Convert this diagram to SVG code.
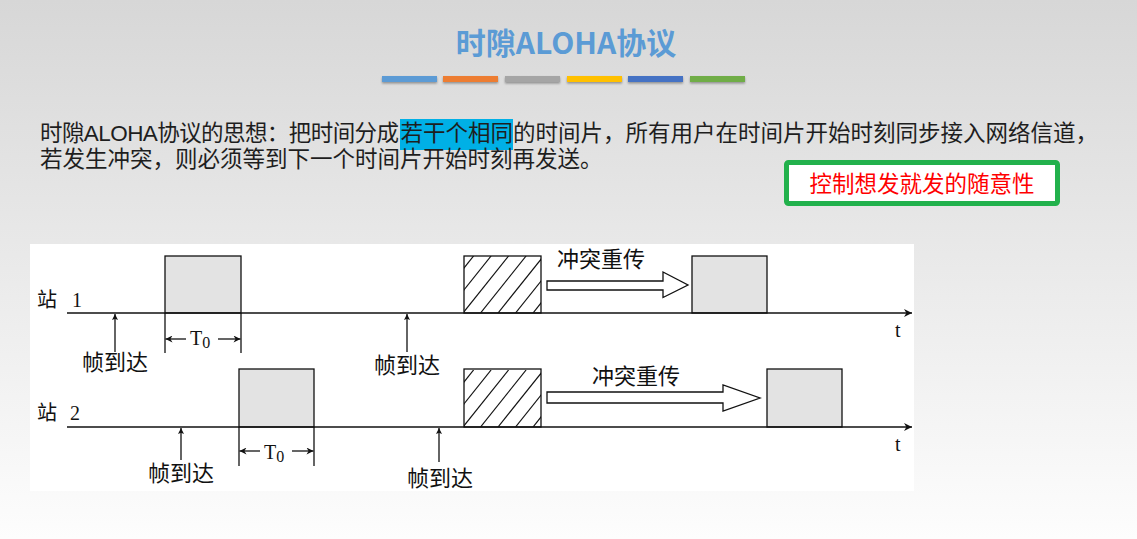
<svg xmlns="http://www.w3.org/2000/svg" width="1137" height="539" viewBox="0 0 1137 539">
<style>
.cjk{font-family:"Noto Sans CJK SC","Noto Sans",sans-serif}
.desc{font-family:"Liberation Sans","Noto Sans CJK SC",sans-serif;font-size:22.5px;fill:#1e1e1e}
.lbl{font-family:"Liberation Serif","Noto Sans CJK SC",serif;fill:#111}
.ln{stroke:#111;stroke-width:1.3;fill:none}
.axis{stroke:#111;stroke-width:1.6;fill:none}
.frame{fill:#e3e3e3;stroke:#111;stroke-width:1.3}
.hbox{fill:#fff;stroke:#111;stroke-width:1.3}
.hollow{fill:#fff;stroke:#111;stroke-width:1.3;stroke-linejoin:miter}
.bar{filter:url(#sh)}
</style>
<defs>
<linearGradient id="bg" x1="0" y1="0" x2="0" y2="1">
<stop offset="0" stop-color="#d7d7d7"/>
<stop offset="1" stop-color="#fdfdfd"/>
</linearGradient>
<filter id="sh" x="-10%" y="-50%" width="120%" height="250%">
<feDropShadow dx="0" dy="1.5" stdDeviation="1" flood-color="#000" flood-opacity="0.35"/>
</filter>
<marker id="up" viewBox="0 0 10 10" refX="10" refY="5" markerWidth="10" markerHeight="6" markerUnits="userSpaceOnUse" orient="auto">
<path d="M0,0 L10,5 L0,10 L2,5 Z" fill="#111"/>
</marker>
<marker id="dim" viewBox="0 0 10 10" refX="10" refY="5" markerWidth="17" markerHeight="7" markerUnits="userSpaceOnUse" orient="auto">
<path d="M0,0 L10,5 L0,10 L3,5 Z" fill="#111"/>
</marker>
<marker id="ax" viewBox="0 0 10 10" refX="10" refY="5" markerWidth="24" markerHeight="8" markerUnits="userSpaceOnUse" orient="auto">
<path d="M0,0 L10,5 L0,10 L3,5 Z" fill="#111"/>
</marker>
<clipPath id="hc"><rect x="464" y="256" width="77" height="57"/></clipPath>
<g id="hatch" clip-path="url(#hc)" stroke="#111" stroke-width="1.2">
<line x1="428" y1="313" x2="473.6" y2="256"/>
<line x1="445.5" y1="313" x2="491.1" y2="256"/>
<line x1="463" y1="313" x2="508.6" y2="256"/>
<line x1="480.5" y1="313" x2="526.1" y2="256"/>
<line x1="498" y1="313" x2="543.6" y2="256"/>
<line x1="515.5" y1="313" x2="561.1" y2="256"/>
<line x1="533" y1="313" x2="578.6" y2="256"/>
</g>
</defs>

<rect x="0" y="0" width="1137" height="539" fill="url(#bg)"/>

<g id="title">
<text x="566" y="54" text-anchor="middle" class="cjk" font-size="30" font-weight="bold" fill="#5b9bd5">时隙ALOHA协议</text>
</g>

<g id="color-bars">
<rect class="bar" x="382" y="76" width="55" height="6" fill="#5b9bd5"/>
<rect class="bar" x="443" y="76" width="55" height="6" fill="#ed7d31"/>
<rect class="bar" x="505" y="76" width="55" height="6" fill="#a5a5a5"/>
<rect class="bar" x="567" y="76" width="55" height="6" fill="#ffc000"/>
<rect class="bar" x="628" y="76" width="55" height="6" fill="#4472c4"/>
<rect class="bar" x="690" y="76" width="55" height="6" fill="#70ad47"/>
</g>

<g id="description">
<rect x="400" y="119" width="113" height="31" fill="#00b0e6"/>
<text class="desc" x="40" y="141" textLength="359" lengthAdjust="spacing">时隙ALOHA协议的思想：把时间分成</text>
<text class="desc" x="400.5" y="141">若干个相同</text>
<text class="desc" x="513" y="141">的时间片，所有用户在时间片开始时刻同步接入网络信道，</text>
<text class="desc" x="40" y="167">若发生冲突，则必须等到下一个时间片开始时刻再发送。</text>
</g>

<g id="note">
<rect x="786.5" y="162.5" width="271" height="41" rx="2" fill="#fff" stroke="#22b14c" stroke-width="5"/>
<text x="922" y="192" text-anchor="middle" class="cjk" font-size="22.5" fill="#ff0000">控制想发就发的随意性</text>
</g>

<rect id="panel" x="30" y="244" width="884" height="247" fill="#fff"/>

<g id="station1">
<text class="lbl" y="307" font-size="20"><tspan x="37">站</tspan><tspan x="72">1</tspan></text>
<rect class="frame" x="165" y="256" width="76" height="57"/>
<rect class="hbox" x="464" y="256" width="77" height="57"/>
<use href="#hatch"/>
<rect class="frame" x="692" y="256" width="75" height="57"/>
<text class="lbl" x="557" y="267" font-size="22">冲突重传</text>
<path class="hollow" d="M547,281 L663,281 L663,272 L688,285 L663,297.5 L663,290 L547,290 Z"/>
<text class="lbl" x="115" y="370" font-size="22" text-anchor="middle">帧到达</text>
<text class="lbl" x="407" y="373" font-size="22" text-anchor="middle">帧到达</text>
<text class="lbl" x="190" y="345" font-size="20">T<tspan dy="3" font-size="16">0</tspan></text>
<text class="lbl" x="895" y="337" font-size="20">t</text>
</g>

<g id="station2">
<text class="lbl" y="420" font-size="20"><tspan x="37">站</tspan><tspan x="70">2</tspan></text>
<rect class="frame" x="239" y="369" width="75" height="58"/>
<rect class="hbox" x="464" y="369" width="77" height="58"/>
<use href="#hatch" transform="translate(0,114)"/>
<rect class="frame" x="767" y="369" width="75" height="58"/>
<text class="lbl" x="592" y="384" font-size="22">冲突重传</text>
<path class="hollow" d="M547,392 L723,392 L723,385 L760,398 L723,411 L723,403 L547,403 Z"/>
<text class="lbl" x="181" y="481" font-size="22" text-anchor="middle">帧到达</text>
<text class="lbl" x="440" y="486" font-size="22" text-anchor="middle">帧到达</text>
<text class="lbl" x="264" y="459" font-size="20">T<tspan dy="3" font-size="16">0</tspan></text>
<text class="lbl" x="895" y="451" font-size="20">t</text>
</g>

<g id="connectors">
<line class="axis" x1="67" y1="313" x2="912" y2="313" marker-end="url(#ax)"/>
<line class="axis" x1="67" y1="427" x2="912" y2="427" marker-end="url(#ax)"/>
<line class="ln" x1="115" y1="352" x2="115" y2="314" marker-end="url(#up)"/>
<line class="ln" x1="407" y1="352" x2="407" y2="314" marker-end="url(#up)"/>
<line class="ln" x1="181" y1="460" x2="181" y2="428" marker-end="url(#up)"/>
<line class="ln" x1="439" y1="462" x2="439" y2="428" marker-end="url(#up)"/>
<line class="ln" x1="165" y1="313" x2="165" y2="353"/>
<line class="ln" x1="241" y1="313" x2="241" y2="353"/>
<line class="ln" x1="186" y1="339" x2="165.5" y2="339" marker-end="url(#dim)"/>
<line class="ln" x1="218" y1="339" x2="240.5" y2="339" marker-end="url(#dim)"/>
<line class="ln" x1="239" y1="427" x2="239" y2="466"/>
<line class="ln" x1="314" y1="427" x2="314" y2="466"/>
<line class="ln" x1="260" y1="451" x2="239.5" y2="451" marker-end="url(#dim)"/>
<line class="ln" x1="292" y1="451" x2="313.5" y2="451" marker-end="url(#dim)"/>
</g>
</svg>
